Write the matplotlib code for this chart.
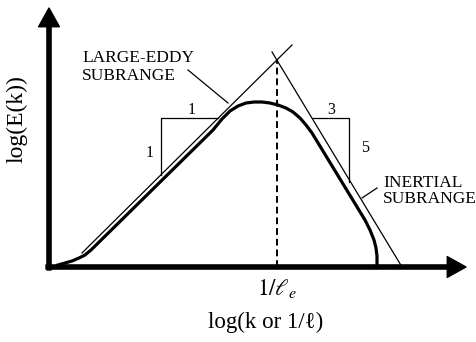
import numpy as np
import matplotlib
matplotlib.use('Agg')
import matplotlib.pyplot as plt

plt.rcParams['font.family'] = ['Liberation Serif', 'DejaVu Serif']
plt.rcParams['mathtext.fontset'] = 'stix'

# spectrum (log k, log E)
spectrum_k = [0.09, 0.16, 0.23, 0.30, 0.36, 0.42, 1.64, 1.73, 1.81, 1.89, 1.97, 2.05, 2.13,
              2.21, 2.29, 2.37, 2.44, 2.51, 2.57, 2.63, 3.16, 3.21, 3.25, 3.27, 3.28, 3.28]
spectrum_E = [0.02, 0.04, 0.06, 0.09, 0.12, 0.17, 1.37, 1.48, 1.56, 1.61, 1.64, 1.65, 1.65,
              1.64, 1.62, 1.59, 1.55, 1.49, 1.42, 1.34, 0.47, 0.37, 0.27, 0.19, 0.11, 0.03]

# asymptotes
large_eddy_k = [0.33, 2.43]
large_eddy_E = [0.14, 2.22]
inertial_k = [2.23, 3.53]
inertial_E = [2.15, 0.0]

k_e = 2.277
E_peak = 2.063

# slope triangles
tri1_k = [1.69, 1.12, 1.12]
tri1_E = [1.49, 1.49, 0.92]
tri2_k = [2.64, 3.00, 3.00]
tri2_E = [1.49, 1.49, 0.85]

fig = plt.figure(figsize=(4.77, 3.42), dpi=100)
ax = fig.add_axes([0, 0, 1, 1])
ax.set_xlim(-0.49, 4.28)
ax.set_ylim(-0.75, 2.67)
ax.axis('off')

arrow = dict(width=3, headwidth=15, headlength=13.5, shrink=0, color='black')
ax.annotate('', xy=(0, 2.59), xytext=(0, -0.03), arrowprops=arrow)
ax.annotate('', xy=(4.17, 0), xytext=(-0.03, 0), arrowprops=arrow)

ax.plot(large_eddy_k, large_eddy_E, color='black', lw=0.9)
ax.plot(inertial_k, inertial_E, color='black', lw=0.9)
ax.plot(spectrum_k, spectrum_E, color='black', lw=2.3, solid_joinstyle='round')
ax.plot([k_e, k_e], [0, E_peak], color='black', lw=1.4, dashes=(3.5, 2))

ax.plot(tri1_k, tri1_E, color='black', lw=0.9)
ax.plot(tri2_k, tri2_E, color='black', lw=0.9)
ax.text(1.43, 1.53, '1', fontsize=11.5, ha='center', va='baseline')
ax.text(1.01, 1.10, '1', fontsize=11.5, ha='center', va='baseline')
ax.text(2.82, 1.53, '3', fontsize=11.5, ha='center', va='baseline')
ax.text(3.16, 1.15, '5', fontsize=11.5, ha='center', va='baseline')

ax.text(0.33, 2.05, 'LARGE-EDDY', fontsize=12.5, ha='left', va='baseline')
ax.text(0.33, 1.87, 'SUBRANGE', fontsize=12.5, ha='left', va='baseline')
ax.plot([1.39, 1.79], [1.97, 1.64], color='black', lw=0.9)

ax.text(3.34, 0.80, 'INERTIAL', fontsize=12.5, ha='left', va='baseline')
ax.text(3.34, 0.64, 'SUBRANGE', fontsize=12.5, ha='left', va='baseline')
ax.plot([3.28, 3.13], [0.79, 0.69], color='black', lw=0.9)

ax.text(k_e, -0.28, r'$1/\ell_e$', fontsize=16.5, ha='center', va='baseline')
ax.text(2.17, -0.61, 'log(k or 1/ℓ)', fontsize=16.5, ha='center', va='baseline')
ax.text(-0.32, 1.48, 'log(E(k))', fontsize=17, ha='center', va='center', rotation=90)

plt.savefig('out.png', dpi=100)
